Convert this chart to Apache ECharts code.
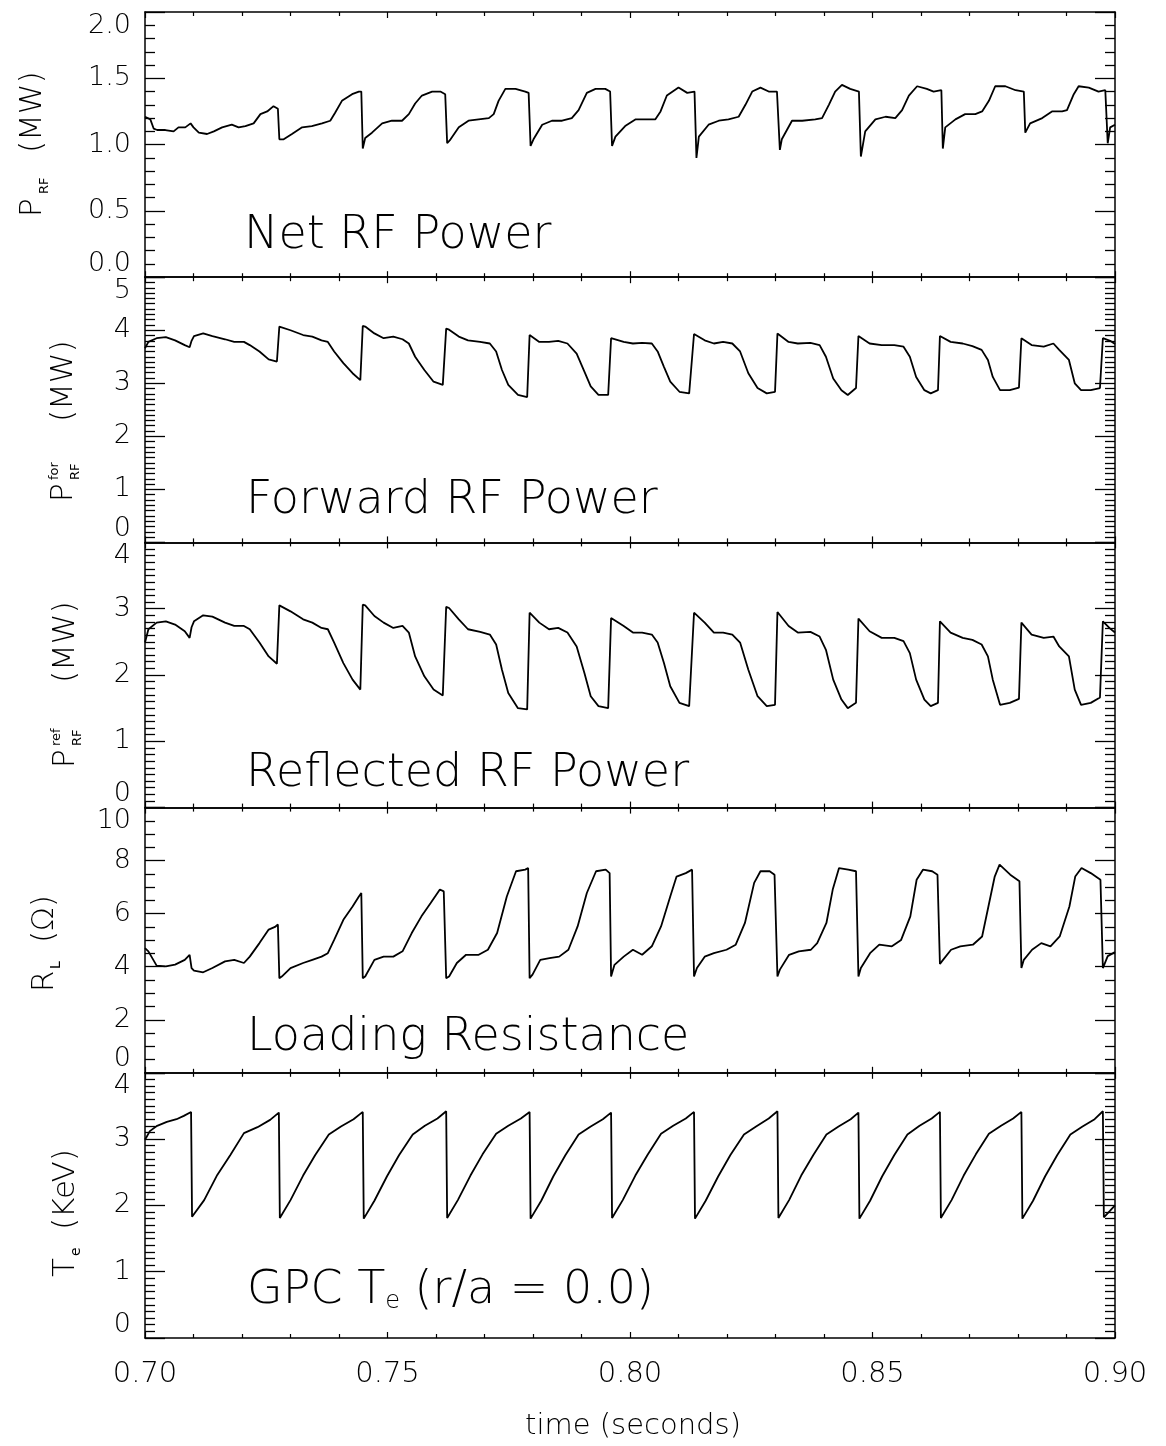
<!DOCTYPE html>
<html>
<head>
<meta charset="utf-8">
<script src="https://cdn.jsdelivr.net/npm/echarts@6/dist/echarts.min.js"></script>
<style>
  html, body { margin: 0; padding: 0; background: #fff; }
  #chart { width: 1166px; height: 1446px; }
</style>
</head>
<body>
<div id="chart"></div>
<script>
// ---------- DATA ----------
const timeTicks = [0.70, 0.75, 0.80, 0.85, 0.90];

// Net RF Power (MW)
const netPower = [
[0.7000,1.21],[0.7011,1.19],[0.7018,1.12],[0.7025,1.11],[0.7042,1.11],[0.7059,1.10],[0.7069,1.13],[0.7083,1.13],[0.7094,1.16],[0.7100,1.13],[0.7111,1.09],[0.7128,1.08],[0.7142,1.10],[0.7159,1.13],[0.7179,1.15],[0.7193,1.13],[0.7207,1.14],[0.7224,1.16],[0.7238,1.23],[0.7252,1.25],[0.7265,1.29],[0.7274,1.27],
[0.7277,1.04],[0.7286,1.04],[0.7303,1.08],[0.7324,1.13],[0.7344,1.14],[0.7365,1.16],[0.7382,1.18],[0.7392,1.24],[0.7406,1.33],[0.7427,1.38],[0.7441,1.40],[0.7446,1.40],
[0.7449,0.97],[0.7454,1.05],[0.7468,1.09],[0.7489,1.16],[0.7509,1.18],[0.7530,1.18],[0.7544,1.23],[0.7557,1.31],[0.7571,1.37],[0.7592,1.40],[0.7609,1.40],[0.7619,1.38],
[0.7623,1.01],[0.7630,1.04],[0.7647,1.13],[0.7667,1.18],[0.7688,1.19],[0.7709,1.20],[0.7719,1.23],[0.7729,1.33],[0.7743,1.42],[0.7764,1.42],[0.7784,1.40],[0.7791,1.39],
[0.7795,0.99],[0.7801,1.04],[0.7819,1.15],[0.7839,1.18],[0.7860,1.18],[0.7880,1.20],[0.7894,1.26],[0.7911,1.39],[0.7929,1.42],[0.7949,1.42],[0.7959,1.40],
[0.7963,0.99],[0.7970,1.06],[0.7990,1.14],[0.8011,1.19],[0.8032,1.19],[0.8052,1.19],[0.8063,1.25],[0.8076,1.37],[0.8100,1.43],[0.8118,1.39],[0.8133,1.40],
[0.8137,0.90],[0.8142,1.06],[0.8162,1.15],[0.8183,1.18],[0.8203,1.19],[0.8224,1.21],[0.8238,1.30],[0.8252,1.40],[0.8269,1.43],[0.8286,1.40],[0.8303,1.40],
[0.8309,0.96],[0.8313,1.04],[0.8334,1.18],[0.8355,1.18],[0.8382,1.19],[0.8396,1.20],[0.8410,1.30],[0.8423,1.40],[0.8437,1.45],[0.8454,1.42],[0.8472,1.40],
[0.8476,0.91],[0.8485,1.10],[0.8506,1.19],[0.8527,1.21],[0.8547,1.20],[0.8561,1.26],[0.8575,1.37],[0.8592,1.44],[0.8612,1.42],[0.8626,1.40],[0.8642,1.41],
[0.8645,0.97],[0.8650,1.13],[0.8671,1.19],[0.8691,1.23],[0.8712,1.23],[0.8726,1.25],[0.8740,1.33],[0.8753,1.44],[0.8774,1.44],[0.8795,1.41],[0.8812,1.40],
[0.8815,1.09],[0.8825,1.16],[0.8850,1.20],[0.8870,1.25],[0.8891,1.25],[0.8901,1.26],[0.8915,1.38],[0.8925,1.44],[0.8946,1.43],[0.8966,1.40],[0.8980,1.41],
[0.8985,1.01],[0.8990,1.13],[0.9000,1.15]
];

// Forward RF Power (MW)
const forwardPower = [
[0.7000,3.66],[0.7007,3.78],[0.7024,3.85],[0.7043,3.87],[0.7062,3.81],[0.7082,3.72],[0.7092,3.68],[0.7096,3.80],[0.7101,3.89],[0.7120,3.94],[0.7139,3.89],[0.7165,3.83],[0.7184,3.78],[0.7204,3.78],[0.7216,3.72],[0.7236,3.60],[0.7255,3.45],[0.7272,3.41],
[0.7277,4.07],[0.7300,4.00],[0.7326,3.91],[0.7345,3.88],[0.7364,3.81],[0.7377,3.78],[0.7390,3.60],[0.7409,3.38],[0.7428,3.19],[0.7444,3.06],
[0.7449,4.08],[0.7454,4.07],[0.7473,3.94],[0.7492,3.85],[0.7512,3.88],[0.7531,3.83],[0.7544,3.75],[0.7557,3.50],[0.7576,3.25],[0.7595,3.03],[0.7614,2.97],
[0.7621,4.03],[0.7627,4.01],[0.7647,3.88],[0.7666,3.81],[0.7691,3.78],[0.7711,3.75],[0.7724,3.60],[0.7736,3.25],[0.7749,2.97],[0.7769,2.78],[0.7788,2.74],
[0.7793,3.91],[0.7813,3.78],[0.7833,3.78],[0.7852,3.80],[0.7871,3.75],[0.7890,3.56],[0.7906,3.22],[0.7919,2.94],[0.7935,2.78],[0.7955,2.78],
[0.7961,3.85],[0.7987,3.78],[0.8006,3.75],[0.8025,3.76],[0.8045,3.75],[0.8057,3.60],[0.8070,3.31],[0.8083,3.03],[0.8102,2.84],[0.8122,2.81],
[0.8132,3.93],[0.8154,3.81],[0.8173,3.75],[0.8192,3.78],[0.8211,3.75],[0.8227,3.60],[0.8244,3.19],[0.8263,2.91],[0.8282,2.81],[0.8299,2.84],
[0.8304,3.94],[0.8327,3.78],[0.8346,3.75],[0.8372,3.76],[0.8391,3.72],[0.8404,3.50],[0.8419,3.09],[0.8436,2.87],[0.8449,2.78],[0.8466,2.91],
[0.8471,3.89],[0.8494,3.75],[0.8519,3.72],[0.8545,3.72],[0.8564,3.69],[0.8577,3.50],[0.8590,3.12],[0.8607,2.87],[0.8620,2.81],[0.8635,2.87],
[0.8639,3.89],[0.8661,3.78],[0.8686,3.75],[0.8706,3.70],[0.8725,3.63],[0.8738,3.44],[0.8748,3.12],[0.8763,2.87],[0.8783,2.87],[0.8802,2.92],
[0.8807,3.85],[0.8828,3.72],[0.8853,3.69],[0.8873,3.75],[0.8885,3.63],[0.8905,3.44],[0.8917,3.00],[0.8930,2.87],[0.8950,2.87],[0.8969,2.91],
[0.8975,3.85],[0.8990,3.80],[0.9000,3.74]
];

// Reflected RF Power (MW)
const reflectedPower = [
[0.7000,2.49],[0.7007,2.69],[0.7024,2.79],[0.7043,2.81],[0.7062,2.76],[0.7082,2.66],[0.7092,2.56],[0.7096,2.72],[0.7101,2.81],[0.7120,2.90],[0.7139,2.88],[0.7165,2.79],[0.7184,2.74],[0.7204,2.74],[0.7216,2.69],[0.7236,2.49],[0.7255,2.28],[0.7272,2.17],
[0.7277,3.05],[0.7300,2.96],[0.7326,2.84],[0.7345,2.79],[0.7364,2.71],[0.7377,2.69],[0.7390,2.49],[0.7409,2.18],[0.7428,1.93],[0.7444,1.78],
[0.7449,3.06],[0.7454,3.05],[0.7473,2.89],[0.7492,2.79],[0.7512,2.71],[0.7531,2.74],[0.7544,2.64],[0.7557,2.28],[0.7576,1.98],[0.7595,1.78],[0.7614,1.69],
[0.7621,3.03],[0.7627,3.01],[0.7647,2.84],[0.7666,2.69],[0.7691,2.65],[0.7711,2.61],[0.7724,2.46],[0.7736,2.08],[0.7749,1.73],[0.7769,1.50],[0.7788,1.48],
[0.7793,2.94],[0.7813,2.79],[0.7833,2.69],[0.7852,2.71],[0.7871,2.64],[0.7890,2.43],[0.7906,2.03],[0.7919,1.68],[0.7935,1.53],[0.7955,1.50],
[0.7961,2.86],[0.7987,2.74],[0.8006,2.64],[0.8025,2.64],[0.8045,2.61],[0.8057,2.49],[0.8070,2.18],[0.8083,1.83],[0.8102,1.58],[0.8122,1.53],
[0.8132,2.94],[0.8154,2.79],[0.8173,2.64],[0.8192,2.64],[0.8211,2.61],[0.8227,2.49],[0.8244,2.08],[0.8263,1.68],[0.8282,1.53],[0.8299,1.55],
[0.8304,2.95],[0.8327,2.74],[0.8346,2.64],[0.8372,2.65],[0.8391,2.58],[0.8404,2.38],[0.8419,1.93],[0.8436,1.63],[0.8449,1.50],[0.8466,1.58],
[0.8471,2.85],[0.8494,2.66],[0.8519,2.56],[0.8545,2.56],[0.8564,2.51],[0.8577,2.33],[0.8590,1.93],[0.8607,1.63],[0.8620,1.53],[0.8635,1.58],
[0.8639,2.81],[0.8661,2.64],[0.8686,2.56],[0.8706,2.53],[0.8725,2.46],[0.8738,2.28],[0.8748,1.93],[0.8763,1.55],[0.8783,1.58],[0.8802,1.64],
[0.8807,2.79],[0.8828,2.61],[0.8853,2.56],[0.8873,2.58],[0.8885,2.43],[0.8905,2.28],[0.8917,1.78],[0.8930,1.55],[0.8950,1.58],[0.8969,1.66],
[0.8975,2.81],[0.8990,2.70],[0.9000,2.64]
];

// Loading Resistance (Ohm)
const loadingResistance = [
[0.7000,4.70],[0.7007,4.58],[0.7024,4.04],[0.7043,4.01],[0.7062,4.08],[0.7082,4.26],[0.7092,4.45],[0.7096,3.95],[0.7101,3.85],[0.7120,3.79],[0.7139,3.95],[0.7165,4.20],[0.7184,4.26],[0.7204,4.14],[0.7216,4.38],[0.7236,4.89],[0.7255,5.40],[0.7268,5.50],[0.7274,5.59],
[0.7277,3.57],[0.7282,3.63],[0.7300,3.95],[0.7326,4.14],[0.7345,4.26],[0.7364,4.38],[0.7377,4.51],[0.7390,5.01],[0.7409,5.77],[0.7428,6.27],[0.7441,6.65],[0.7446,6.78],
[0.7449,3.57],[0.7454,3.63],[0.7473,4.26],[0.7492,4.38],[0.7512,4.38],[0.7531,4.58],[0.7550,5.27],[0.7570,5.90],[0.7589,6.40],[0.7608,6.91],[0.7616,6.84],
[0.7621,3.57],[0.7627,3.63],[0.7643,4.14],[0.7662,4.45],[0.7688,4.45],[0.7707,4.64],[0.7726,5.27],[0.7746,6.65],[0.7765,7.60],[0.7784,7.66],[0.7790,7.72],
[0.7793,3.57],[0.7799,3.70],[0.7815,4.26],[0.7834,4.32],[0.7854,4.38],[0.7873,4.64],[0.7892,5.52],[0.7911,6.78],[0.7930,7.60],[0.7950,7.66],[0.7958,7.53],
[0.7961,3.63],[0.7968,4.07],[0.7987,4.38],[0.8006,4.64],[0.8025,4.45],[0.8045,4.77],[0.8064,5.52],[0.8083,6.65],[0.8096,7.40],[0.8115,7.53],[0.8128,7.66],
[0.8132,3.63],[0.8138,3.95],[0.8154,4.38],[0.8173,4.51],[0.8199,4.64],[0.8218,4.83],[0.8237,5.65],[0.8256,7.16],[0.8269,7.60],[0.8288,7.60],[0.8298,7.47],
[0.8304,3.63],[0.8309,3.89],[0.8328,4.45],[0.8348,4.58],[0.8373,4.64],[0.8386,4.89],[0.8405,5.65],[0.8418,6.91],[0.8431,7.72],[0.8450,7.66],[0.8466,7.60],
[0.8471,3.63],[0.8476,3.95],[0.8495,4.51],[0.8514,4.83],[0.8540,4.77],[0.8559,5.01],[0.8578,5.90],[0.8591,7.28],[0.8604,7.66],[0.8623,7.60],[0.8634,7.47],
[0.8639,4.10],[0.8643,4.20],[0.8662,4.64],[0.8681,4.77],[0.8707,4.83],[0.8726,5.14],[0.8739,6.27],[0.8752,7.40],[0.8762,7.85],[0.8784,7.47],[0.8803,7.22],
[0.8807,3.95],[0.8812,4.26],[0.8829,4.64],[0.8848,4.89],[0.8867,4.77],[0.8886,5.14],[0.8906,6.27],[0.8918,7.40],[0.8931,7.72],[0.8950,7.53],[0.8970,7.28],
[0.8975,3.95],[0.8985,4.40],[0.9000,4.55]
];

// GPC electron temperature Te (keV), r/a = 0.0
const electronTemp = [
[0.7000,2.99],[0.7010,3.12],[0.7025,3.20],[0.7045,3.26],[0.7065,3.30],[0.7080,3.35],[0.7095,3.41],
[0.7097,1.83],[0.7122,2.08],[0.7149,2.46],[0.7176,2.76],[0.7204,3.09],[0.7232,3.18],[0.7258,3.29],[0.7276,3.40],
[0.7278,1.81],[0.7300,2.08],[0.7326,2.45],[0.7351,2.76],[0.7379,3.07],[0.7404,3.19],[0.7430,3.30],[0.7449,3.41],
[0.7451,1.80],[0.7473,2.07],[0.7499,2.44],[0.7524,2.76],[0.7552,3.07],[0.7577,3.20],[0.7603,3.31],[0.7621,3.42],
[0.7623,1.81],[0.7645,2.08],[0.7671,2.45],[0.7696,2.77],[0.7724,3.08],[0.7749,3.20],[0.7775,3.31],[0.7793,3.41],
[0.7795,1.80],[0.7817,2.07],[0.7842,2.44],[0.7867,2.76],[0.7894,3.07],[0.7919,3.19],[0.7944,3.30],[0.7961,3.40],
[0.7963,1.81],[0.7985,2.08],[0.8011,2.45],[0.8036,2.76],[0.8064,3.08],[0.8089,3.20],[0.8115,3.31],[0.8132,3.41],
[0.8134,1.80],[0.8156,2.07],[0.8182,2.44],[0.8207,2.76],[0.8235,3.07],[0.8260,3.19],[0.8286,3.31],[0.8304,3.42],
[0.8306,1.81],[0.8328,2.08],[0.8353,2.45],[0.8378,2.76],[0.8405,3.07],[0.8430,3.19],[0.8455,3.30],[0.8471,3.40],
[0.8473,1.80],[0.8495,2.07],[0.8520,2.44],[0.8545,2.76],[0.8572,3.07],[0.8597,3.20],[0.8622,3.31],[0.8639,3.41],
[0.8641,1.81],[0.8663,2.08],[0.8688,2.45],[0.8713,2.77],[0.8740,3.08],[0.8765,3.20],[0.8790,3.31],[0.8807,3.41],
[0.8809,1.80],[0.8831,2.07],[0.8856,2.44],[0.8881,2.76],[0.8908,3.07],[0.8933,3.19],[0.8958,3.30],[0.8975,3.42],
[0.8977,1.82],[0.8990,1.92],[0.9000,2.00]
];

// Panel y-axis ranges and tick settings
const yMins = [0, 0, 0, 0, 0];
const yMaxs = [2.0, 5, 4, 10, 4];
const yIntervals = [0.5, 1, 1, 2, 1];
const yMinorSplits = [5, 10, 10, 4, 10];
const yDecimals = [1, 0, 0, 0, 0];
const panelTitles = ['Net RF Power', 'Forward RF Power', 'Reflected RF Power', 'Loading Resistance', 'GPC T{sub|e} (r/a = 0.0)'];
const seriesList = [netPower, forwardPower, reflectedPower, loadingResistance, electronTemp];

// ---------- LAYOUT ----------
const FONT = "'DejaVu Sans', 'Liberation Sans', sans-serif";
const LEFT = 145, WIDTH = 970;
const TOP0 = 12, PH = 265.2;
const tops = [0, 1, 2, 3, 4].map(i => TOP0 + PH * i);

const grid = [], xAxis = [], yAxis = [], series = [];
for (let i = 0; i < 5; i++) {
  grid.push({ left: LEFT, width: WIDTH, top: tops[i], height: PH, containLabel: false });
  const axLine = { show: true, onZero: false, lineStyle: { color: '#000', width: 1.5 } };
  const xBase = {
    type: 'value', gridIndex: i, min: timeTicks[0], max: timeTicks[timeTicks.length - 1], interval: 0.05,
    axisLine: axLine,
    axisTick: { show: true, inside: true, length: 6, lineStyle: { color: '#000', width: 1.2 } },
    minorTick: { show: true, splitNumber: 5, length: 4, lineStyle: { color: '#000', width: 1.2 } },
    splitLine: { show: false }, minorSplitLine: { show: false }
  };
  xAxis.push(Object.assign({}, xBase, {
    position: 'bottom',
    axisLabel: {
      show: i === 4, color: '#000', fontSize: 29, fontFamily: FONT, fontWeight: 200, margin: 22,
      formatter: v => v.toFixed(2)
    }
  }));
  xAxis.push(Object.assign({}, xBase, { position: 'top', axisLabel: { show: false } }));

  const yBase = {
    type: 'value', gridIndex: i, min: yMins[i], max: yMaxs[i], interval: yIntervals[i],
    axisLine: axLine,
    axisTick: { show: true, inside: true, length: 20, lineStyle: { color: '#000', width: 1.3 } },
    minorTick: { show: true, splitNumber: yMinorSplits[i], length: 10, lineStyle: { color: '#000', width: 1.3 } },
    splitLine: { show: false }, minorSplitLine: { show: false }
  };
  const dec = yDecimals[i];
  yAxis.push(Object.assign({}, yBase, {
    position: 'left',
    axisLabel: {
      show: true, color: '#000', fontSize: 27, fontFamily: FONT, fontWeight: 200, margin: 14,
      formatter: v => v.toFixed(dec),
      verticalAlignMinLabel: 'bottom', verticalAlignMaxLabel: 'top'
    }
  }));
  yAxis.push(Object.assign({}, yBase, { position: 'right', axisLabel: { show: false } }));

  series.push({
    type: 'line', xAxisIndex: 2 * i, yAxisIndex: 2 * i, data: seriesList[i],
    showSymbol: false, symbol: 'none', smooth: false, clip: true,
    lineStyle: { color: '#000', width: 1.8 }, animation: false
  });
}

// ---------- TEXT ----------
const txt = (text, x, y, size, extra) => Object.assign({
  type: 'text', x: x, y: y,
  style: Object.assign({ text: text, fill: '#000', fontSize: size, fontFamily: FONT, fontWeight: 200,
    align: 'left', verticalAlign: 'middle', textAlign: 'left', textVerticalAlign: 'middle' }, extra || {})
});
const small = (text, x, y, size) => txt(text, x, y, size, { fontWeight: 'normal' });

const graphics = [];
const titleY = [236, 501, 774, 1038, 1291];
const titleX = [244, 246, 246, 247, 247];
for (let i = 0; i < 5; i++) {
  graphics.push(txt(panelTitles[i], titleX[i], titleY[i], 46, {
    rich: { sub: { fontSize: 24, fontFamily: FONT, fontWeight: 200, fill: '#000', verticalAlign: 'bottom', lineHeight: 26 } }
  }));
}

// rotated y-axis names (reading bottom to top)
const nameGroup = (x, y, children) => ({ type: 'group', x: x, y: y, rotation: Math.PI / 2, children: children });
graphics.push(nameGroup(33, 217, [txt('P', 0, 0, 31), small('RF', 23, 12, 13), txt('(MW)', 64, 0, 31)]));
graphics.push(nameGroup(64, 502, [txt('P', 0, 0, 31), small('for', 22, -9, 13), small('RF', 22, 12, 13), txt('(MW)', 80, 0, 31)]));
graphics.push(nameGroup(66, 768, [txt('P', 0, 0, 31), small('ref', 22, -9, 13), small('RF', 22, 12, 13), txt('(MW)', 85, 0, 31)]));
graphics.push(nameGroup(45, 992, [txt('R', 0, 0, 31), small('L', 23, 11, 14), txt('(Ω)', 49, 0, 31)]));
graphics.push(nameGroup(66, 1277, [txt('T', 0, 0, 31), small('e', 21, 10, 14), txt('(KeV)', 47, 0, 31)]));

// x-axis name
graphics.push(txt('time (seconds)', 633, 1426, 29, { align: 'center', textAlign: 'center' }));

const chart = echarts.init(document.getElementById('chart'), null, { renderer: 'canvas' });
chart.setOption({
  animation: false,
  backgroundColor: '#fff',
  grid: grid, xAxis: xAxis, yAxis: yAxis, series: series,
  graphic: { elements: graphics }
});
</script>
</body>
</html>
